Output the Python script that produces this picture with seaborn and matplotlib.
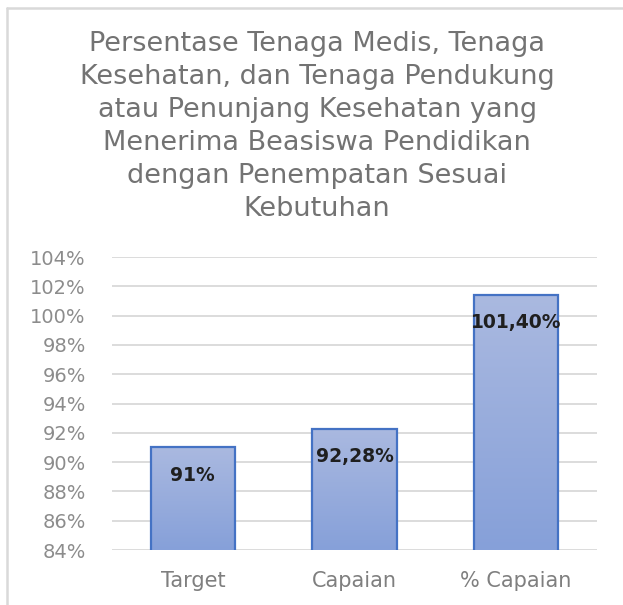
import numpy as np
import pandas as pd
import seaborn as sns
import matplotlib.pyplot as plt
from matplotlib.lines import Line2D
from matplotlib.colors import LinearSegmentedColormap

# chart data
categories = ['Target', 'Capaian', '% Capaian']
values = [91.0, 92.28, 101.40]
value_labels = ['91%', '92,28%', '101,40%']
y_ticks = [84, 86, 88, 90, 92, 94, 96, 98, 100, 102, 104]
title = ('Persentase Tenaga Medis, Tenaga\n'
         'Kesehatan, dan Tenaga Pendukung\n'
         'atau Penunjang Kesehatan yang\n'
         'Menerima Beasiswa Pendidikan\n'
         'dengan Penempatan Sesuai\n'
         'Kebutuhan')

sns.set_style('white')
plt.rcParams['font.family'] = ['DejaVu Sans']

df = pd.DataFrame({'kategori': categories, 'nilai': values})

fig = plt.figure(figsize=(6.23, 6.05), dpi=100)
ax = fig.add_axes([0.1798, 0.0909, 0.7785, 0.4843])

sns.barplot(data=df, x='kategori', y='nilai', ax=ax, width=0.52,
            color='#9AAEDC', edgecolor='#4472C4', linewidth=1.6,
            saturation=1, zorder=2)

# gradient fill inside each bar
grad = np.linspace(0, 1, 256).reshape(-1, 1)
cmap = LinearSegmentedColormap.from_list('g', ['#86A0D9', '#AAB9E0'])
for p in ax.patches:
    x0, y0 = p.get_x(), p.get_y()
    w, h = p.get_width(), p.get_height()
    im = ax.imshow(grad, extent=[x0, x0 + w, 84, y0 + h], origin='lower',
                   cmap=cmap, aspect='auto', zorder=2.5)
    im.set_clip_path(p)
    p.set_facecolor('none')
    p.set_zorder(3)

ax.set_xlim(-0.5, 2.5)
ax.set_ylim(84, 104)
ax.set_yticks(y_ticks)
ax.set_yticklabels([f'{t}%' for t in y_ticks])
ax.yaxis.grid(True, color='#d9d9d9', linewidth=1.3, zorder=0)
ax.set_axisbelow(True)
for s in ax.spines.values():
    s.set_visible(False)
ax.set_xlabel('')
ax.set_ylabel('')
ax.tick_params(axis='y', length=0, pad=19, labelsize=14, labelcolor='#8c8c8c')
ax.tick_params(axis='x', length=0, pad=15, labelsize=15, labelcolor='#7f7f7f')

for i, (v, lab) in enumerate(zip(values, value_labels)):
    ax.annotate(lab, (i, v), xytext=(0, -20), textcoords='offset points',
                ha='center', va='center', fontsize=13.5, fontweight='bold',
                color='#1f1f1f', zorder=5)

fig.text(0.509, 1 - 31 / 605, title, ha='center', va='top', fontsize=19.5,
         color='#737373', linespacing=1.35)

# frame of the screenshot
fig.add_artist(Line2D([7 / 623, 1], [1 - 8 / 605, 1 - 8 / 605],
                      transform=fig.transFigure, color='#d9d9d9', linewidth=1.8))
fig.add_artist(Line2D([7 / 623, 7 / 623], [0, 1 - 8 / 605],
                      transform=fig.transFigure, color='#d9d9d9', linewidth=1.8))

fig.savefig('out.png', dpi=100)
